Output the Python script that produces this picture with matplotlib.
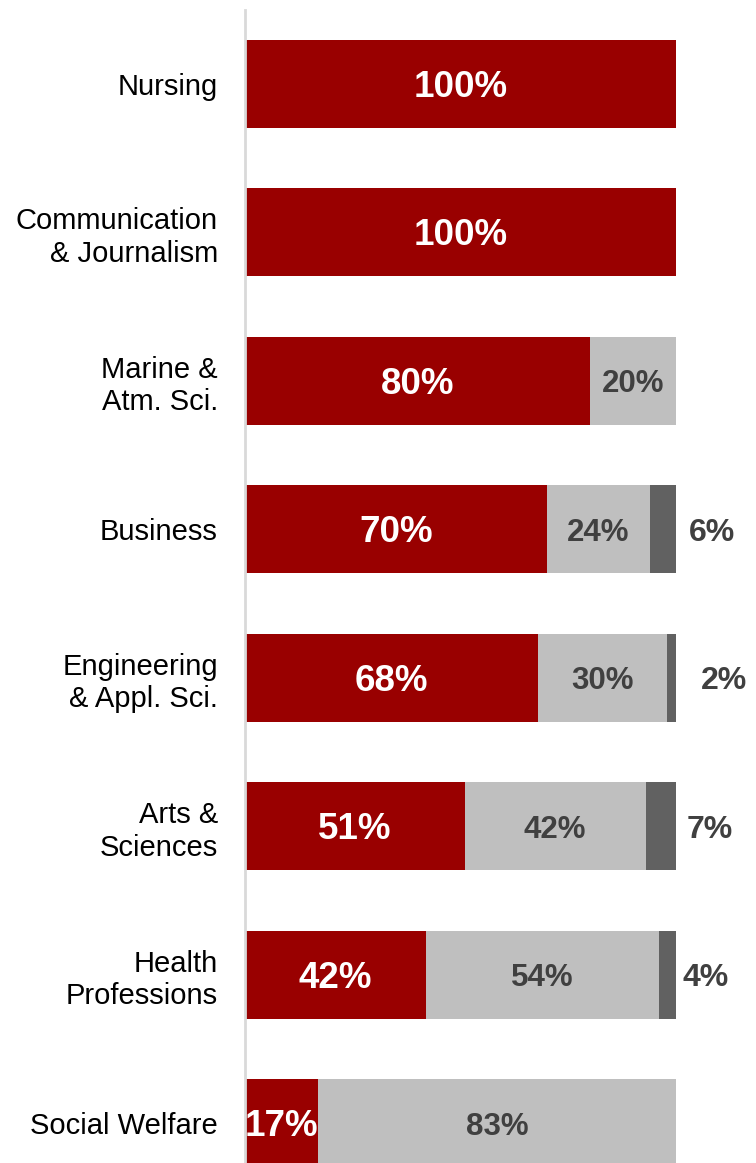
import matplotlib
matplotlib.use("Agg")
import matplotlib.pyplot as plt
import matplotlib.transforms as mtransforms

plt.rcParams['font.family'] = ['Liberation Sans', 'DejaVu Sans']

categories = ["Nursing", "Communication\n& Journalism", "Marine &\nAtm. Sci.", "Business",
              "Engineering\n& Appl. Sci.", "Arts &\nSciences", "Health\nProfessions", "Social Welfare"]
red_vals = [100, 100, 80, 70, 68, 51, 42, 17]
light_vals = [0, 0, 20, 24, 30, 42, 54, 83]
dark_vals = [0, 0, 0, 6, 2, 7, 4, 0]
# horizontal positions of the labels placed outside the bars
outside_label_x = [0, 0, 0, 108.4, 111.1, 107.9, 107.0, 0]

RED = "#990000"
LIGHT = "#BFBFBF"
DARK = "#616161"
TXT = "#404040"

fig = plt.figure(figsize=(7.56, 11.63), dpi=100)
ax = fig.add_axes([245/756, 0, 1 - 245/756, 1 - 10/1163])

y = list(range(len(categories)))
h = 0.593
ax.barh(y, red_vals, height=h, color=RED)
ax.barh(y, light_vals, left=red_vals, height=h, color=LIGHT)
left2 = [r + l for r, l in zip(red_vals, light_vals)]
ax.barh(y, dark_vals, left=left2, height=h, color=DARK)

ax.set_xlim(0, 118.6)
ax.set_ylim(7.269, -0.4986)

shift = mtransforms.offset_copy(ax.transData, fig=fig, x=0, y=-3.5, units='dots')

for i in y:
    r, l, d = red_vals[i], light_vals[i], dark_vals[i]
    if r > 0:
        ax.text(r / 2, i, f"{r}%", ha="center", va="center", color="white",
                fontsize=26.5, fontweight="bold", transform=shift)
    if l > 0:
        ax.text(r + l / 2, i, f"{l}%", ha="center", va="center", color=TXT,
                fontsize=22.5, fontweight="bold", transform=shift)
    if d > 0:
        ax.text(outside_label_x[i], i, f"{d}%", ha="center", va="center", color=TXT,
                fontsize=23, fontweight="bold", transform=shift)

ax.set_yticks(y)
ax.set_yticklabels(categories, fontsize=21, color="black", linespacing=1.2)
ax.tick_params(axis="y", length=0, pad=19.5)
ax.set_xticks([])
for s in ["top", "right", "bottom"]:
    ax.spines[s].set_visible(False)
ax.spines["left"].set_color("#D9D9D9")
ax.spines["left"].set_linewidth(2)

fig.savefig("out.png", dpi=100)
